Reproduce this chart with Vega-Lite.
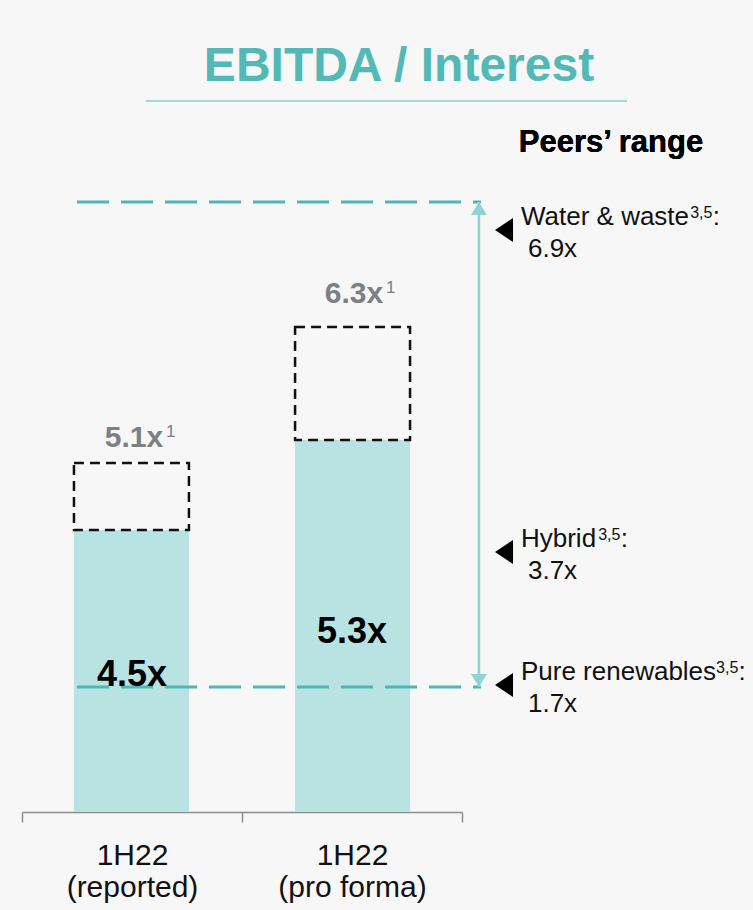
{
  "$schema": "https://vega.github.io/schema/vega-lite/v6.json",
  "width": 440,
  "height": 717,
  "autosize": {"type": "none"},
  "padding": {"left": 22, "top": 95, "right": 291, "bottom": 98},
  "background": "#f7f7f7",
  "title": {
    "text": "EBITDA / Interest",
    "font": "Liberation Sans",
    "fontSize": 48,
    "fontWeight": "bold",
    "color": "#52b9b6",
    "anchor": "middle",
    "frame": "group",
    "baseline": "alphabetic",
    "dx": 157,
    "dy": 47,
    "offset": 13
  },
  "datasets": {
    "bars": [
      {"period": "1H22 (reported)", "ebitda_interest": 4.5, "adjusted": 5.1, "label": "4.5x", "adj_label": "5.1x", "adj_note": "1", "bar_h": 4.029, "box_h": 4.986, "label_y": 1.8, "adj_label_y": 5.214},
      {"period": "1H22 (pro forma)", "ebitda_interest": 5.3, "adjusted": 6.3, "label": "5.3x", "adj_label": "6.3x", "adj_note": "1", "bar_h": 5.314, "box_h": 6.929, "label_y": 2.414, "adj_label_y": 7.271}
    ],
    "peers": [
      {"peer": "Water & waste", "note": "3,5", "multiple": 6.9, "value_label": "6.9x", "line_y": 8.714, "name_y": 8.386, "sup_x": 3.037},
      {"peer": "Hybrid", "note": "3,5", "multiple": 3.7, "value_label": "3.7x", "line_y": null, "name_y": 3.786, "sup_x": 2.619},
      {"peer": "Pure renewables", "note": "3,5", "multiple": 1.7, "value_label": "1.7x", "line_y": 1.786, "name_y": 1.886, "sup_x": 3.155}
    ]
  },
  "layer": [
    {
      "data": {"name": "bars"},
      "layer": [
        {
          "mark": {"type": "bar", "color": "#b9e3e3"},
          "encoding": {
            "x": {"field": "period", "type": "nominal", "sort": ["1H22 (reported)", "1H22 (pro forma)"], "scale": {"paddingInner": 0.48, "paddingOuter": 0.235}, "axis": null},
            "y": {"field": "bar_h", "type": "quantitative", "scale": {"domain": [0, 10.243], "nice": false, "zero": false}, "axis": null}
          }
        },
        {
          "mark": {"type": "bar", "fill": "transparent", "stroke": "#111111", "strokeWidth": 2.5, "strokeDash": [10, 6]},
          "encoding": {
            "x": {"field": "period", "type": "nominal", "sort": ["1H22 (reported)", "1H22 (pro forma)"], "scale": {"paddingInner": 0.48, "paddingOuter": 0.235}, "axis": null},
            "y": {"field": "bar_h", "type": "quantitative", "scale": {"domain": [0, 10.243], "nice": false, "zero": false}, "axis": null},
            "y2": {"field": "box_h"}
          }
        }
      ]
    },
    {
      "data": {"name": "peers"},
      "layer": [
        {
          "mark": {"type": "rule", "color": "#a5d8d5", "strokeWidth": 2},
          "encoding": {
            "x": {"datum": 0.5636, "type": "quantitative", "scale": {"domain": [0, 2], "nice": false, "zero": false},
              "axis": {
                "values": [0, 0.5, 1, 1.5, 2],
                "title": null,
                "grid": false,
                "labelExpr": "datum.value == 0.5 ? ['1H22', '(reported)'] : datum.value == 1.5 ? ['1H22', '(pro forma)'] : ''",
                "labelFont": "Liberation Sans",
                "labelFontSize": 30,
                "labelColor": "#111111",
                "labelPadding": 18,
                "labelLineHeight": 32,
                "labelFlush": false,
                "labelOverlap": false,
                "domainColor": "#8c8c8c",
                "domainWidth": 1.5,
                "tickColor": "#8c8c8c",
                "tickWidth": 1.5,
                "tickSize": 10,
                "tickOpacity": {"condition": {"test": "datum.value % 1 == 0", "value": 1}, "value": 0}
              }
            },
            "x2": {"datum": 2.75},
            "y": {"datum": 10.157, "type": "quantitative", "scale": {"domain": [0, 10.243], "nice": false, "zero": false}, "axis": null}
          }
        },
        {
          "transform": [{"filter": "datum.line_y != null"}],
          "mark": {"type": "rule", "color": "#4fb7b3", "strokeWidth": 3, "strokeDash": [32, 12], "strokeCap": "butt"},
          "encoding": {
            "x": {"datum": 0.25, "type": "quantitative"},
            "x2": {"datum": 2.086},
            "y": {"field": "line_y", "type": "quantitative", "scale": {"domain": [0, 10.243], "nice": false, "zero": false}, "axis": null}
          }
        },
        {
          "transform": [{"filter": "datum.line_y != null"}],
          "mark": {"type": "rule", "color": "#8fd4d2", "strokeWidth": 2.5},
          "encoding": {
            "x": {"datum": 2.077, "type": "quantitative"},
            "y": {"aggregate": "max", "field": "line_y", "type": "quantitative", "scale": {"domain": [0, 10.243], "nice": false, "zero": false}, "axis": null},
            "y2": {"aggregate": "min", "field": "line_y"}
          }
        },
        {
          "transform": [{"filter": "datum.line_y != null"}],
          "mark": {"type": "point", "filled": true, "opacity": 1, "color": "#8fd4d2", "size": 256, "strokeWidth": 0},
          "encoding": {
            "x": {"datum": 2.077, "type": "quantitative"},
            "y": {"field": "line_y", "type": "quantitative", "scale": {"domain": [0, 10.243], "nice": false, "zero": false}, "axis": null},
            "shape": {"condition": {"test": "datum.multiple > 5", "value": "M0,0L1,1.625L-1,1.625Z"}, "value": "M0,0L1,-1.625L-1,-1.625Z"}
          }
        },
        {
          "mark": {"type": "point", "filled": true, "opacity": 1, "color": "#000000", "size": 324, "strokeWidth": 0, "shape": "M1,-0.778L-1,0.556L1,1.889Z"},
          "encoding": {
            "x": {"datum": 2.191, "type": "quantitative"},
            "y": {"field": "name_y", "type": "quantitative", "scale": {"domain": [0, 10.243], "nice": false, "zero": false}, "axis": null}
          }
        },
        {
          "mark": {"type": "text", "align": "left", "baseline": "alphabetic", "fontSize": 26, "color": "#111111"},
          "encoding": {
            "x": {"datum": 2.268, "type": "quantitative"},
            "y": {"field": "name_y", "type": "quantitative", "scale": {"domain": [0, 10.243], "nice": false, "zero": false}, "axis": null},
            "text": {"field": "peer"}
          }
        },
        {
          "mark": {"type": "text", "align": "left", "baseline": "alphabetic", "fontSize": 16, "dy": -7, "color": "#111111"},
          "encoding": {
            "x": {"field": "sup_x", "type": "quantitative"},
            "y": {"field": "name_y", "type": "quantitative", "scale": {"domain": [0, 10.243], "nice": false, "zero": false}, "axis": null},
            "text": {"field": "note"}
          }
        },
        {
          "mark": {"type": "text", "align": "left", "baseline": "alphabetic", "fontSize": 26, "dx": 22.5, "color": "#111111", "text": ":"},
          "encoding": {
            "x": {"field": "sup_x", "type": "quantitative"},
            "y": {"field": "name_y", "type": "quantitative", "scale": {"domain": [0, 10.243], "nice": false, "zero": false}, "axis": null}
          }
        },
        {
          "mark": {"type": "text", "align": "left", "baseline": "alphabetic", "fontSize": 26, "dx": 7, "dy": 32, "color": "#111111"},
          "encoding": {
            "x": {"datum": 2.268, "type": "quantitative"},
            "y": {"field": "name_y", "type": "quantitative", "scale": {"domain": [0, 10.243], "nice": false, "zero": false}, "axis": null},
            "text": {"field": "value_label"}
          }
        },
        {
          "mark": {"type": "text", "align": "center", "baseline": "alphabetic", "fontSize": 31, "fontWeight": "bold", "color": "#000000", "text": "Peers’ range"},
          "encoding": {
            "x": {"datum": 2.677, "type": "quantitative"},
            "y": {"datum": 9.429, "type": "quantitative", "scale": {"domain": [0, 10.243], "nice": false, "zero": false}, "axis": null}
          }
        }
      ]
    },
    {
      "data": {"name": "bars"},
      "layer": [
        {
          "mark": {"type": "text", "align": "center", "baseline": "alphabetic", "fontSize": 36, "fontWeight": "bold", "color": "#000000"},
          "encoding": {
            "x": {"field": "period", "type": "nominal", "sort": ["1H22 (reported)", "1H22 (pro forma)"], "scale": {"paddingInner": 0.48, "paddingOuter": 0.235}, "axis": null},
            "y": {"field": "label_y", "type": "quantitative", "scale": {"domain": [0, 10.243], "nice": false, "zero": false}, "axis": null},
            "text": {"field": "label"}
          }
        },
        {
          "mark": {"type": "text", "align": "center", "baseline": "alphabetic", "fontSize": 30, "fontWeight": "bold", "color": "#7c8083", "dx": 2},
          "encoding": {
            "x": {"field": "period", "type": "nominal", "sort": ["1H22 (reported)", "1H22 (pro forma)"], "scale": {"paddingInner": 0.48, "paddingOuter": 0.235}, "axis": null},
            "y": {"field": "adj_label_y", "type": "quantitative", "scale": {"domain": [0, 10.243], "nice": false, "zero": false}, "axis": null},
            "text": {"field": "adj_label"}
          }
        },
        {
          "mark": {"type": "text", "align": "left", "baseline": "alphabetic", "fontSize": 17, "color": "#7c8083", "dx": 34, "dy": -10},
          "encoding": {
            "x": {"field": "period", "type": "nominal", "sort": ["1H22 (reported)", "1H22 (pro forma)"], "scale": {"paddingInner": 0.48, "paddingOuter": 0.235}, "axis": null},
            "y": {"field": "adj_label_y", "type": "quantitative", "scale": {"domain": [0, 10.243], "nice": false, "zero": false}, "axis": null},
            "text": {"field": "adj_note"}
          }
        }
      ]
    }
  ],
  "resolve": {"scale": {"x": "independent"}},
  "config": {
    "font": "Liberation Sans",
    "view": {"stroke": null},
    "text": {"font": "Liberation Sans"}
  }
}
